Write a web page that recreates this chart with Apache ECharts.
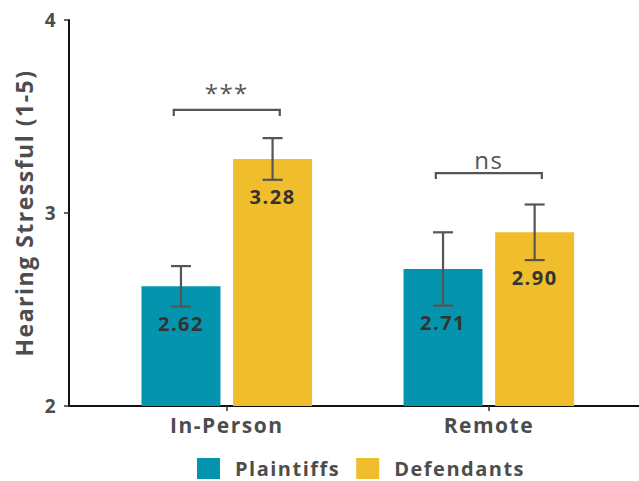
<!DOCTYPE html>
<html>
<head>
<meta charset="utf-8">
<script src="https://cdn.jsdelivr.net/npm/echarts@6/dist/echarts.min.js"></script>
<style>
  html, body { margin: 0; padding: 0; background: #fff; }
  #main { width: 639px; height: 481px; }
  #main svg text { letter-spacing: 1.5px; }
</style>
</head>
<body>
<div id="main"></div>
<script>
// Mean hearing stress ratings (1-5) by hearing format and party
const categories = ['In-Person', 'Remote'];
const plaintiffs = [2.62, 2.71];
const defendants = [3.28, 2.90];
const plaintiffsErr = [0.105, 0.19];
const defendantsErr = [0.108, 0.144];
const significance = ['***', 'ns'];
const bracketLevel = [3.534, 3.207];
const yTicks = [2, 3, 4];

const FONT = '"Open Sans", "Noto Sans", sans-serif';
const TEXT = '#4d4d4d';
const TEAL = '#0594ae';
const GOLD = '#f0bd2d';

const chart = echarts.init(document.getElementById('main'), null, { renderer: 'svg' });

function groupSeries(name, values, errors, color, shift) {
  return {
    type: 'custom',
    name: name,
    itemStyle: { color: color },
    data: values.map((v, i) => [i, v, errors[i]]),
    renderItem: function (params, api) {
      const i = api.value(0), v = api.value(1), e = api.value(2);
      const base = api.coord([i, yTicks[0]]);
      const top = api.coord([i, v]);
      const hi = api.coord([i, v + e]);
      const lo = api.coord([i, v - e]);
      const cx = base[0] + shift;
      const w = 79, cap = 10;
      const stroke = { stroke: '#555', lineWidth: 2.2 };
      return {
        type: 'group',
        children: [
          { type: 'rect', shape: { x: cx - w / 2, y: top[1], width: w, height: base[1] - top[1] }, style: { fill: color } },
          { type: 'line', shape: { x1: cx, y1: hi[1], x2: cx, y2: lo[1] }, style: stroke },
          { type: 'line', shape: { x1: cx - cap, y1: hi[1], x2: cx + cap, y2: hi[1] }, style: stroke },
          { type: 'line', shape: { x1: cx - cap, y1: lo[1], x2: cx + cap, y2: lo[1] }, style: stroke },
          { type: 'text', x: cx, y: lo[1] + 17, style: {
              text: v.toFixed(2), fill: '#333', font: 'bold 20px ' + FONT,
              align: 'center', verticalAlign: 'middle' } }
        ]
      };
    }
  };
}

const bracketHalf = 53;

const bracketSeries = {
  type: 'custom',
  name: 'sig',
  data: categories.map((c, i) => [i, bracketLevel[i], significance[i]]),
  renderItem: function (params, api) {
    const i = api.value(0);
    const p = api.coord([i, api.value(1)]);
    const x1 = p[0] - bracketHalf, x2 = p[0] + bracketHalf;
    const y = p[1], drop = 6;
    const stroke = { stroke: '#555', lineWidth: 2.2, fill: 'none' };
    const label = significance[i];
    return {
      type: 'group',
      children: [
        { type: 'polyline', shape: { points: [[x1, y + drop], [x1, y], [x2, y], [x2, y + drop]] }, style: stroke },
        { type: 'text', x: p[0], y: label === '***' ? y - 17 : y - 14, style: {
            text: label, fill: '#555', font: '24px ' + FONT,
            align: 'center', verticalAlign: 'middle' } }
      ]
    };
  }
};

chart.setOption({
  animation: false,
  color: [TEAL, GOLD],
  grid: { left: 69, right: 0, top: 20, bottom: 75, containLabel: false },
  legend: {
    data: [{ name: 'Plaintiffs', icon: 'rect' }, { name: 'Defendants', icon: 'rect' }],
    top: 458,
    left: 192,
    padding: [0, 5],
    itemWidth: 23,
    itemHeight: 21,
    itemGap: 31,
    textStyle: { fontFamily: FONT, fontWeight: 'bold', fontSize: 20, color: TEXT, padding: [0, 0, 0, 10] }
  },
  xAxis: {
    type: 'value',
    min: -0.602,
    max: 1.573,
    splitLine: { show: false },
    axisLine: { show: true, onZero: false, lineStyle: { color: '#111', width: 2 } },
    axisTick: { show: true, customValues: [0, 1], length: 5, lineStyle: { color: '#333', width: 1.5 } },
    axisLabel: {
      customValues: [0, 1],
      formatter: function (v) { return categories[Math.round(v)]; },
      fontFamily: FONT, fontWeight: 'bold', fontSize: 21, color: TEXT, margin: 8
    }
  },
  yAxis: {
    type: 'value',
    min: 2,
    max: 4,
    interval: 1,
    name: 'Hearing Stressful (1-5)',
    nameLocation: 'middle',
    nameGap: 31,
    nameTextStyle: { fontFamily: FONT, fontWeight: 'bold', fontSize: 23, color: TEXT },
    splitLine: { show: false },
    axisLine: { show: true, onZero: false, lineStyle: { color: '#111', width: 2 } },
    axisTick: { show: true, length: 5, lineStyle: { color: '#333', width: 1.5 } },
    axisLabel: { fontFamily: FONT, fontWeight: 'bold', fontSize: 19, color: TEXT, margin: 12 }
  },
  series: [
    groupSeries('Plaintiffs', plaintiffs, plaintiffsErr, TEAL, -45.8),
    groupSeries('Defendants', defendants, defendantsErr, GOLD, 45.8),
    bracketSeries
  ]
});
</script>
</body>
</html>
